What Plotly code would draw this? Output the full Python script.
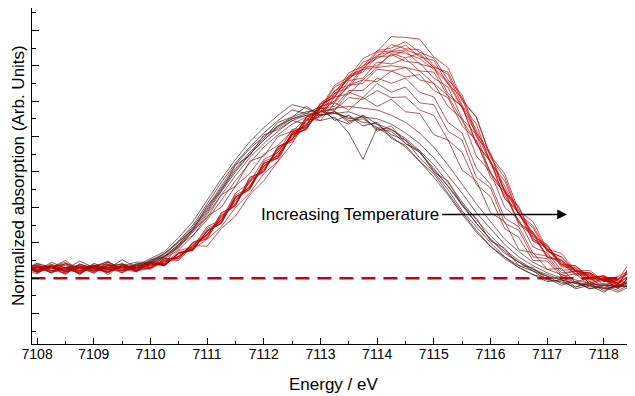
import plotly.graph_objects as go

# Energy grid (eV)
energy = [7107.75 + 0.25 * i for i in range(44)]

# Spectra, ordered from lowest to highest temperature (normalized, arb. units)
d1 = [0.35,0.18,0.45,0.28,0.12,0.42,0.25,0.52,0.3,0.5,0.7,1.05,1.5,2.1,2.7,3.25,3.7,4.1,4.45,4.75,4.65,4.85,4.45,4.6,4.3,4.4,3.95,3.75,3.3,2.95,2.4,1.85,1.35,0.9,0.6,0.3,0.1,-0.1,-0.05,-0.3,-0.2,-0.4,-0.15,-0.3]
d2 = [0.25,0.42,0.3,0.2,0.38,0.3,0.48,0.22,0.4,0.4,0.62,0.95,1.4,1.95,2.55,3.1,3.55,3.95,4.4,4.55,4.85,4.6,4.7,4.5,4.55,4.2,4.15,3.8,3.55,3.05,2.6,2.05,1.55,1.1,0.75,0.45,0.2,0.05,-0.15,-0.1,-0.3,-0.2,-0.25,-0.05]
d3 = [0.3,0.35,0.15,0.42,0.3,0.2,0.35,0.4,0.25,0.52,0.6,0.9,1.35,1.85,2.45,3.0,3.5,3.9,4.3,4.55,4.7,4.75,4.5,4.35,4.6,4.35,4.05,3.9,3.4,3.0,2.5,1.9,1.45,1.0,0.6,0.35,0.2,-0.05,-0.1,-0.25,-0.15,-0.35,-0.2,-0.25]
d4 = [0.2,0.3,0.35,0.25,0.48,0.3,0.2,0.35,0.45,0.45,0.7,1.0,1.45,2.0,2.6,3.2,3.65,4.0,4.3,4.5,4.6,4.45,4.55,4.1,3.35,4.25,4.2,3.9,3.55,3.1,2.6,2.1,1.55,1.1,0.7,0.45,0.25,0.05,-0.05,-0.15,-0.25,-0.2,-0.35,-0.15]
d5 = [0.3,0.25,0.3,0.4,0.25,0.35,0.3,0.3,0.4,0.45,0.62,0.95,1.4,1.9,2.5,3.05,3.5,3.9,4.25,4.5,4.65,4.6,4.65,4.55,4.4,4.35,4.2,3.95,3.6,3.2,2.7,2.15,1.65,1.2,0.8,0.5,0.25,0.1,-0.05,-0.15,-0.2,-0.3,-0.25,-0.2]
d6 = [0.28,0.38,0.22,0.3,0.15,0.35,0.45,0.28,0.35,0.55,0.75,1.15,1.6,2.2,2.8,3.35,3.85,4.25,4.6,4.9,4.8,4.6,4.7,4.45,4.5,4.25,4.0,3.7,3.3,2.85,2.35,1.8,1.3,0.9,0.55,0.3,0.1,0.0,-0.2,-0.1,-0.3,-0.25,-0.4,-0.2]
d7 = [0.25,0.3,0.2,0.3,0.35,0.25,0.4,0.3,0.35,0.42,0.58,0.88,1.3,1.8,2.35,2.9,3.4,3.8,4.15,4.45,4.6,4.7,4.65,4.7,4.55,4.5,4.35,4.1,3.8,3.4,2.9,2.4,1.85,1.4,0.95,0.6,0.35,0.15,0.0,-0.1,-0.2,-0.15,-0.25,-0.2]
d8 = [0.4,0.22,0.3,0.5,0.2,0.32,0.15,0.38,0.28,0.48,0.66,1.05,1.35,2.05,2.45,3.2,3.45,4.05,4.2,4.45,4.35,4.6,4.7,4.4,4.6,4.15,4.3,3.8,3.6,3.0,2.75,2.05,1.7,1.05,0.85,0.35,0.3,-0.05,0.05,-0.25,-0.1,-0.3,-0.2,-0.1]
d9 = [0.3,0.25,0.32,0.22,0.3,0.36,0.25,0.3,0.35,0.4,0.55,0.8,1.2,1.65,2.2,2.75,3.25,3.7,4.05,4.35,4.55,4.7,4.8,4.85,4.8,4.75,4.6,4.4,4.1,3.7,3.2,2.65,2.1,1.6,1.1,0.75,0.45,0.25,0.1,-0.05,-0.15,-0.2,-0.2,-0.1]
r1 = [0.42,0.18,0.3,0.45,0.12,0.35,0.4,0.15,0.38,0.3,0.62,0.85,1.35,1.7,2.35,2.6,3.3,3.45,4.0,4.15,4.5,4.45,4.95,4.75,5.1,4.85,5.05,4.7,4.65,4.05,3.9,3.05,2.75,1.85,1.6,0.8,0.72,0.25,0.28,-0.12,0.02,-0.28,-0.1,-0.25]
r2 = [0.15,0.4,0.3,0.12,0.35,0.22,0.45,0.25,0.18,0.48,0.4,0.95,1.2,1.75,2.0,2.6,2.95,3.5,3.75,4.15,4.25,4.72,4.75,5.1,5.05,5.3,5.1,5.12,4.75,4.6,3.9,3.55,2.65,2.3,1.4,1.15,0.5,0.48,0.05,0.12,-0.2,-0.05,-0.3,0.05]
r3 = [0.32,0.18,0.36,0.1,0.4,0.28,0.15,0.42,0.22,0.4,0.38,0.78,0.88,1.45,1.65,2.4,2.7,3.35,3.55,4.2,4.25,4.8,4.75,5.25,5.1,5.5,5.25,5.4,4.95,4.9,4.15,3.9,2.85,2.55,1.55,1.35,0.6,0.55,0.1,0.2,-0.15,-0.02,-0.28,0.1]
r4 = [0.28,0.12,0.38,0.3,0.18,0.36,0.1,0.38,0.2,0.45,0.38,0.72,0.85,1.4,1.6,2.35,2.55,3.3,3.45,4.1,4.2,4.8,4.85,5.3,5.3,5.65,5.5,5.65,5.25,5.12,4.4,4.1,3.1,2.65,1.7,1.45,0.7,0.62,0.15,0.2,-0.15,0.0,-0.3,0.15]
r5 = [0.16,0.3,0.34,0.18,0.32,0.14,0.38,0.3,0.2,0.28,0.55,0.55,1.02,1.15,1.85,2.05,2.85,3.0,3.7,3.85,4.45,4.55,5.12,5.2,5.6,5.55,5.85,5.68,5.75,5.3,5.1,4.3,3.9,2.85,2.45,1.5,1.25,0.58,0.5,0.08,0.12,-0.2,-0.05,-0.2]
r6 = [0.38,0.15,0.32,0.4,0.1,0.35,0.22,0.35,0.25,0.45,0.36,0.7,0.8,1.35,1.55,2.3,2.5,3.25,3.4,4.05,4.2,4.85,4.95,5.45,5.5,5.9,5.85,5.95,5.6,5.5,4.85,4.5,3.45,3.0,2.0,1.65,0.88,0.72,0.22,0.25,-0.1,0.02,-0.25,0.1]
r7 = [0.1,0.35,0.22,0.15,0.4,0.25,0.18,0.36,0.3,0.35,0.45,0.62,0.85,1.25,1.65,2.2,2.6,3.15,3.5,3.95,4.25,4.7,5.0,5.45,5.6,5.95,6.0,5.95,5.85,5.5,5.15,4.45,3.85,3.0,2.35,1.6,1.15,0.65,0.4,0.12,0.05,-0.08,-0.12,0.1]
r8 = [0.3,0.2,0.4,0.15,0.32,0.2,0.3,0.4,0.18,0.42,0.36,0.7,0.78,1.32,1.55,2.3,2.5,3.25,3.38,4.05,4.2,4.85,5.0,5.58,5.65,6.1,6.05,6.2,5.85,5.82,5.15,4.85,3.8,3.3,2.25,1.9,1.05,0.9,0.35,0.3,0.0,0.06,-0.15,0.3]
r9 = [0.2,0.32,0.18,0.3,0.35,0.2,0.28,0.15,0.36,0.28,0.55,0.58,1.0,1.2,1.82,2.1,2.82,3.05,3.72,3.9,4.5,4.7,5.3,5.45,5.95,6.0,6.32,6.12,6.08,5.65,5.4,4.5,4.05,2.95,2.5,1.55,1.3,0.6,0.52,0.12,0.15,-0.1,-0.02,0.2]
r10 = [0.28,0.18,0.35,0.25,0.15,0.34,0.3,0.2,0.32,0.25,0.48,0.5,0.92,0.9,1.4,1.75,2.35,2.75,3.3,3.8,4.45,4.62,5.22,5.38,5.9,5.95,6.35,6.22,6.35,5.95,5.82,5.0,4.55,3.45,2.95,1.9,1.6,0.82,0.7,0.2,0.22,-0.08,0.05,0.25]
r11 = [0.25,0.3,0.15,0.3,0.22,0.32,0.26,0.2,0.35,0.4,0.36,0.7,0.8,1.35,1.58,2.28,2.55,3.22,3.45,4.12,4.3,4.92,5.1,5.7,5.82,6.25,6.28,6.42,6.05,5.95,5.22,4.85,3.8,3.3,2.25,1.85,1.05,0.85,0.32,0.28,-0.05,0.02,-0.2,0.4]
r12 = [0.35,0.22,0.3,0.18,0.28,0.38,0.16,0.32,0.26,0.36,0.48,0.62,0.92,1.22,1.72,2.12,2.7,3.08,3.62,3.98,4.45,4.82,5.28,5.62,6.0,6.2,6.4,6.35,6.2,5.9,5.5,4.8,4.1,3.25,2.5,1.8,1.25,0.8,0.45,0.2,0.08,-0.06,-0.15,0.1]
r13 = [0.22,0.36,0.28,0.2,0.3,0.26,0.38,0.2,0.3,0.34,0.42,0.62,0.85,1.25,1.65,2.2,2.6,3.15,3.55,4.05,4.35,4.85,5.15,5.65,5.9,6.3,6.4,6.45,6.3,5.95,5.55,4.85,4.2,3.3,2.6,1.8,1.3,0.8,0.5,0.22,0.1,-0.05,-0.05,0.2]
r14 = [0.3,0.2,0.3,0.36,0.2,0.28,0.18,0.35,0.22,0.42,0.35,0.72,0.8,1.32,1.55,2.25,2.5,3.18,3.4,4.08,4.3,4.92,5.12,5.72,5.9,6.38,6.42,6.58,6.25,6.15,5.48,5.1,4.0,3.5,2.4,2.0,1.1,0.92,0.38,0.35,0.0,0.08,-0.15,0.12]
r15 = [0.18,0.28,0.32,0.22,0.3,0.18,0.35,0.3,0.22,0.3,0.52,0.55,0.98,1.12,1.78,2.05,2.78,3.02,3.7,3.92,4.55,4.78,5.4,5.6,6.1,6.25,6.6,6.48,6.45,6.0,5.75,4.88,4.35,3.25,2.75,1.78,1.42,0.75,0.6,0.18,0.15,-0.1,-0.05,0.28]
r16 = [0.34,0.16,0.3,0.28,0.2,0.32,0.24,0.3,0.2,0.4,0.38,0.7,0.82,1.1,1.45,2.0,2.4,2.95,3.3,4.12,4.32,4.95,5.2,5.8,5.98,6.42,6.5,6.68,6.38,6.22,5.6,5.18,4.1,3.55,2.45,2.02,1.18,0.95,0.4,0.35,0.02,0.05,-0.18,0.45]
r17 = [0.25,0.32,0.15,0.3,0.28,0.15,0.35,0.22,0.3,0.28,0.5,0.55,0.95,1.12,1.75,2.05,2.75,3.0,3.65,3.92,4.55,4.82,5.45,5.68,6.2,6.4,6.82,6.8,6.75,6.25,5.95,5.05,4.55,3.4,2.85,1.8,1.48,0.78,0.6,0.2,0.15,-0.05,-0.05,0.55]

spectra = [d1, d2, d3, d4, d5, d6, d7, d8, d9,
           r1, r2, r3, r4, r5, r6, r7, r8, r9, r10, r11, r12, r13, r14, r15, r16, r17]

colors = ["#2a0e0e", "#341010", "#3e1212", "#481313", "#521414", "#5c1414", "#661414", "#701313", "#7c1212",
          "#8a1010", "#940e0e", "#9c0d0d", "#a30c0c", "#a80a0a", "#ad0909", "#b10808", "#b40707", "#b70606",
          "#ba0505", "#bd0404", "#bf0303", "#c10202", "#c30202", "#c50101", "#c70000", "#c90000"]

baseline_x = [7107.9, 7118.6]
baseline_y = [0.0, 0.0]

fig = go.Figure()
for ys, c in zip(spectra, colors):
    fig.add_trace(go.Scatter(x=energy, y=ys, mode="lines",
                             line=dict(color=c, width=0.8), opacity=0.85,
                             showlegend=False, hoverinfo="skip"))

fig.add_trace(go.Scatter(x=baseline_x, y=baseline_y, mode="lines",
                         line=dict(color="#d40000", width=2.5, dash="14px,8px"),
                         showlegend=False, hoverinfo="skip"))

font_family = "Liberation Sans, Arial, sans-serif"

fig.update_layout(
    width=627, height=388,
    margin=dict(l=24, r=0, t=0, b=52),
    paper_bgcolor="white", plot_bgcolor="white",
    font=dict(family=font_family, color="black"),
    xaxis=dict(range=[7107.91, 7118.55], showgrid=False, zeroline=False,
               showline=True, linecolor="black", linewidth=1.2,
               ticks="inside", ticklen=6, tickwidth=1, tickcolor="black",
               tick0=7108, dtick=1, tickfont=dict(size=14, family=font_family),
               ticklabelstandoff=-3,
               minor=dict(ticks="inside", ticklen=3, dtick=0.5, tickcolor="black")),
    yaxis=dict(range=[-1.86, 7.63], showgrid=False, zeroline=False,
               showline=True, linecolor="black", linewidth=1.2,
               showticklabels=False,
               ticks="inside", ticklen=7, tickwidth=1, tickcolor="black",
               tick0=0, dtick=1,
               minor=dict(ticks="inside", ticklen=4, dtick=0.5, tickcolor="black")),
    annotations=[
        dict(text="Energy / eV", xref="paper", yref="paper", x=0.5, y=-0.122,
             xanchor="center", yanchor="middle", showarrow=False,
             font=dict(size=17, family=font_family)),
        dict(text="Normalized absorption (Arb. Units)", xref="paper", yref="paper",
             x=-0.0232, y=0.5, textangle=-90, xanchor="center", yanchor="middle",
             showarrow=False, font=dict(size=17, family=font_family)),
        dict(text="Increasing Temperature", xref="x", yref="y", x=7115.12, y=1.8,
             xanchor="right", yanchor="middle", showarrow=False,
             font=dict(size=17, family=font_family)),
        dict(text="", xref="x", yref="y", x=7117.35, y=1.8, axref="x", ayref="y",
             ax=7115.12, ay=1.8, showarrow=True, arrowhead=2, arrowsize=1.3,
             arrowwidth=1.5, arrowcolor="black"),
    ],
)

fig.write_html("out.html")
